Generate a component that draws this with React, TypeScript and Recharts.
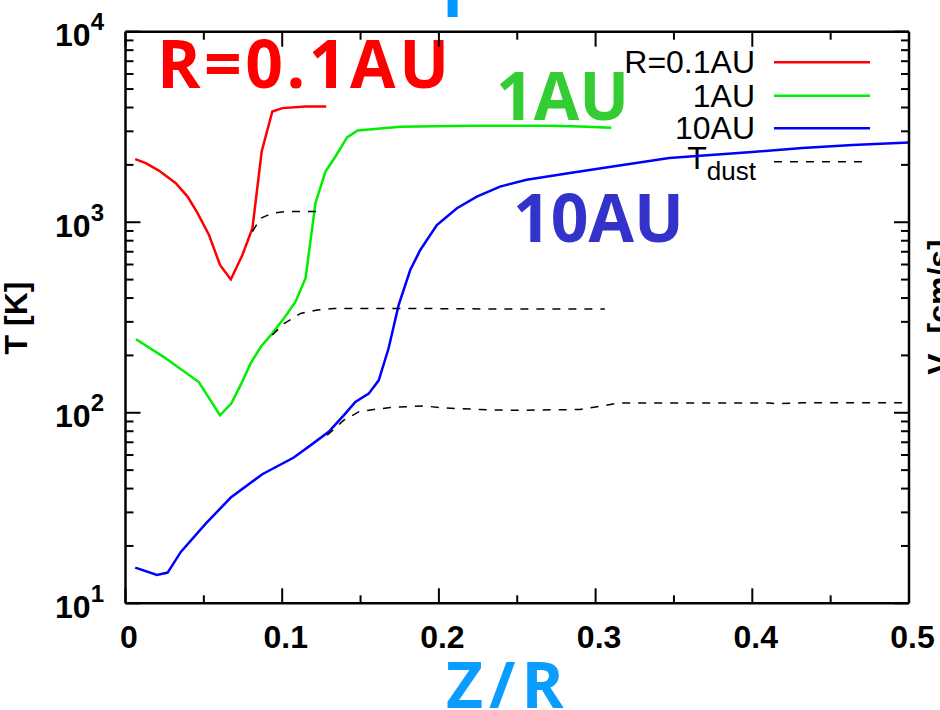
import React from 'react';
import { LineChart, Line, XAxis, YAxis, Customized } from 'recharts';

// ---------------- data (Z/R, T[K]) ----------------
const gas01Z = [0.0062, 0.013, 0.0215, 0.0321, 0.0396, 0.046, 0.0533, 0.0603, 0.0672, 0.0746, 0.081, 0.0869, 0.0937, 0.1001, 0.1149, 0.1281];
const gas01T = [2143, 2042, 1862, 1603, 1363, 1115, 857, 597, 501, 673, 930, 2351, 3811, 3971, 4049, 4049];

const gas1Z = [0.0067, 0.0245, 0.0468, 0.0603, 0.0676, 0.0735, 0.0799, 0.0867, 0.0937, 0.1011, 0.1085, 0.1149, 0.1212, 0.1276, 0.134, 0.1414, 0.1482, 0.1754, 0.22, 0.27, 0.29, 0.31];
const gas1T = [243, 196, 145, 97, 112, 140, 182, 224, 261, 313, 383, 508, 1259, 1846, 2213, 2786, 3030, 3175, 3210, 3210, 3180, 3130];

const gas10Z = [0.0062, 0.0201, 0.0269, 0.0353, 0.0512, 0.0672, 0.0873, 0.1074, 0.1202, 0.1297, 0.1404, 0.1467, 0.1552, 0.1616, 0.1679, 0.1743, 0.1817, 0.1881, 0.1987, 0.2115, 0.2242, 0.239, 0.256, 0.2836, 0.3046, 0.347, 0.4, 0.432, 0.464, 0.5];
const gas10T = [15.4, 14.1, 14.5, 18.6, 26.2, 35.9, 47.6, 58.2, 69.5, 79.4, 99.2, 114, 126, 148, 218, 367, 561, 715, 967, 1185, 1363, 1538, 1669, 1815, 1928, 2176, 2339, 2455, 2545, 2620];

const dust01Z = [0.081, 0.0863, 0.0937, 0.1022, 0.1234];
const dust01T = [894, 1050, 1115, 1137, 1137];

const dust1Z = [0.0937, 0.1011, 0.1117, 0.1223, 0.1329, 0.2, 0.25, 0.3059];
const dust1T = [256, 294, 332, 346, 353, 352, 350, 350];

const dust10Z = [0.1287, 0.1393, 0.1488, 0.1584, 0.169, 0.1902, 0.2029, 0.2263, 0.2473, 0.29, 0.3046, 0.3154, 0.411, 0.4155, 0.4319, 0.5];
const dust10T = [76.2, 91.4, 101, 104, 106.6, 108.7, 106, 104, 103, 104, 108.7, 112.7, 112.4, 111.8, 112.7, 112.7];

// ticks
const xMajorTicks = [0, 0.1, 0.2, 0.3, 0.4, 0.5];
const xTickLabels = ['0', '0.1', '0.2', '0.3', '0.4', '0.5'];
const xMinorTicks = [0.05, 0.15, 0.25, 0.35, 0.45];
const yMajorTicks = [10, 100, 1000, 10000];
const yTickExponents = ['1', '2', '3', '4'];
const yMinorTicks = [20, 30, 40, 50, 60, 70, 80, 90, 200, 300, 400, 500, 600, 700, 800, 900, 2000, 3000, 4000, 5000, 6000, 7000, 8000, 9000];

const legendLabels = ['R=0.1AU', '1AU', '10AU'];

const zip = (zs: number[], ts: number[]) => zs.map((z, i) => ({ z, T: ts[i] }));

const series = [
  { key: 'g01', data: zip(gas01Z, gas01T), color: '#ff0000', dash: undefined as string | undefined, width: 2.5 },
  { key: 'g1', data: zip(gas1Z, gas1T), color: '#00ee00', dash: undefined, width: 2.5 },
  { key: 'g10', data: zip(gas10Z, gas10T), color: '#0000ff', dash: undefined, width: 2.5 },
  { key: 'd01', data: zip(dust01Z, dust01T), color: '#000000', dash: '8 8', width: 1.5 },
  { key: 'd1', data: zip(dust1Z, dust1T), color: '#000000', dash: '8 8', width: 1.5 },
  { key: 'd10', data: zip(dust10Z, dust10T), color: '#000000', dash: '8 8', width: 1.5 },
];

const xAllTicks = [...xMajorTicks, ...xMinorTicks].sort((a, b) => a - b);
const yAllTicks = [...yMajorTicks, ...yMinorTicks].sort((a, b) => a - b);

const TICK_FONT = "'Liberation Sans', Arial, sans-serif";
const BIG_FONT = "'Open Sans', sans-serif";

const isMajorX = (v: number) => xMajorTicks.findIndex((m) => Math.abs(m - v) < 1e-9);
const isMajorY = (v: number) => yMajorTicks.findIndex((m) => Math.abs(m - v) < 1e-9);

const BottomTick = (p: any) => {
  const idx = isMajorX(p.payload.value);
  const len = idx >= 0 ? 15 : 8;
  return (
    <g>
      <line x1={p.x} y1={p.y} x2={p.x} y2={p.y - len} stroke="#000" strokeWidth={2} />
      {idx >= 0 && (
        <text x={p.x + 3.5} y={p.y + 45} textAnchor="middle" fontFamily={TICK_FONT} fontWeight="bold" fontSize={32} fill="#000">
          {xTickLabels[idx]}
        </text>
      )}
    </g>
  );
};

const TopTick = (p: any) => {
  const idx = isMajorX(p.payload.value);
  const len = idx >= 0 ? 15 : 8;
  return <line x1={p.x} y1={p.y} x2={p.x} y2={p.y + len} stroke="#000" strokeWidth={2} />;
};

const LeftTick = (p: any) => {
  const idx = isMajorY(p.payload.value);
  const len = idx >= 0 ? 15 : 8;
  return (
    <g>
      <line x1={p.x} y1={p.y} x2={p.x + len} y2={p.y} stroke="#000" strokeWidth={2} />
      {idx >= 0 && (
        <text x={104} y={p.y + 14.5} textAnchor="end" fontFamily={TICK_FONT} fontWeight="bold" fill="#000">
          <tspan fontSize={32}>10</tspan>
          <tspan fontSize={24} dy={-16}>{yTickExponents[idx]}</tspan>
        </text>
      )}
    </g>
  );
};

const RightTick = (p: any) => {
  const idx = isMajorY(p.payload.value);
  const len = idx >= 0 ? 15 : 8;
  return <line x1={p.x} y1={p.y} x2={p.x - len} y2={p.y} stroke="#000" strokeWidth={2} />;
};

const Annotations = () => {
  const rows = [62.3, 95.7, 128.3];
  const colors = ['#ff0000', '#00ee00', '#0000ff'];
  return (
    <g>
      {/* cropped title fragment */}
      <text x={452.5} y={17} textAnchor="middle" fontFamily={BIG_FONT} fontWeight="bold" fontSize={66} fill="#0099ff">T</text>
      <text x={157} y={88} fontFamily={BIG_FONT} fontWeight="bold" fontSize={66} letterSpacing={3.5} fill="#ff0000">R=0.1AU</text>
      <text x={496} y={120} fontFamily={BIG_FONT} fontWeight="bold" fontSize={66} fill="#33cc33">1AU</text>
      <text x={513} y={242} fontFamily={BIG_FONT} fontWeight="bold" fontSize={66} fill="#3333cc">10AU</text>
      <text x={446} y={708} fontFamily={BIG_FONT} fontWeight="bold" fontSize={64} letterSpacing={6} fill="#0a9cff">Z/R</text>
      {/* axis titles */}
      <text x={27} y={318} transform="rotate(-90, 27, 318)" textAnchor="middle" fontFamily={TICK_FONT} fontWeight="bold" fontSize={32} fill="#000">T [K]</text>
      <text x={950} y={307} transform="rotate(-90, 950, 307)" textAnchor="middle" fontFamily={TICK_FONT} fontWeight="bold" fontSize={32} fill="#000">
        <tspan>V</tspan>
        <tspan fontSize={22} dy={8}>z</tspan>
        <tspan dy={-8}> [cm/s]</tspan>
      </text>
      {/* legend */}
      {legendLabels.map((lab, i) => (
        <g key={lab}>
          <text x={755} y={rows[i] + 11} textAnchor="end" fontFamily={TICK_FONT} fontSize={32} fill="#000">{lab}</text>
          <line x1={774} y1={rows[i]} x2={870} y2={rows[i]} stroke={colors[i]} strokeWidth={2.5} />
        </g>
      ))}
      <text x={756} y={169} textAnchor="end" fontFamily={TICK_FONT} fontSize={32} fill="#000">
        <tspan>T</tspan>
        <tspan fontSize={26} dy={11}>dust</tspan>
      </text>
      <line x1={774} y1={161.7} x2={870} y2={161.7} stroke="#000" strokeWidth={1.5} strokeDasharray="8 8" />
    </g>
  );
};

export default function App() {
  return (
    <div style={{ position: 'absolute', left: 0, top: 0, width: 940, height: 710, background: '#fff' }}>
      <LineChart width={940} height={710} margin={{ top: 0, right: 0, bottom: 0, left: 0 }}>
        <XAxis
          xAxisId="b"
          orientation="bottom"
          type="number"
          dataKey="z"
          domain={[0, 0.5]}
          ticks={xAllTicks}
          interval={0}
          height={106.7}
          tickSize={0}
          tickMargin={0}
          tickLine={false}
          axisLine={{ stroke: '#000', strokeWidth: 2.5 }}
          tick={(p: any) => <BottomTick {...p} />}
          allowDataOverflow
        />
        <XAxis
          xAxisId="t"
          orientation="top"
          type="number"
          dataKey="z"
          domain={[0, 0.5]}
          ticks={xAllTicks}
          interval={0}
          height={31.7}
          tickSize={0}
          tickMargin={0}
          tickLine={false}
          axisLine={{ stroke: '#000', strokeWidth: 2.5 }}
          tick={(p: any) => <TopTick {...p} />}
          allowDataOverflow
        />
        <YAxis
          yAxisId="l"
          orientation="left"
          type="number"
          scale="log"
          domain={[10, 10000]}
          ticks={yAllTicks}
          interval={0}
          width={125.5}
          tickSize={0}
          tickMargin={0}
          tickLine={false}
          axisLine={{ stroke: '#000', strokeWidth: 2.5 }}
          tick={(p: any) => <LeftTick {...p} />}
          allowDataOverflow
        />
        <YAxis
          yAxisId="r"
          orientation="right"
          type="number"
          scale="log"
          domain={[10, 10000]}
          ticks={yAllTicks}
          interval={0}
          width={31}
          tickSize={0}
          tickMargin={0}
          tickLine={false}
          axisLine={{ stroke: '#000', strokeWidth: 2.5 }}
          tick={(p: any) => <RightTick {...p} />}
          allowDataOverflow
        />
        {series.map((s) => (
          <Line
            key={s.key}
            xAxisId="b"
            yAxisId="l"
            data={s.data}
            dataKey="T"
            type="linear"
            stroke={s.color}
            strokeWidth={s.width}
            strokeDasharray={s.dash}
            dot={false}
            activeDot={false}
            isAnimationActive={false}
          />
        ))}
        <Customized component={Annotations} />
      </LineChart>
    </div>
  );
}
